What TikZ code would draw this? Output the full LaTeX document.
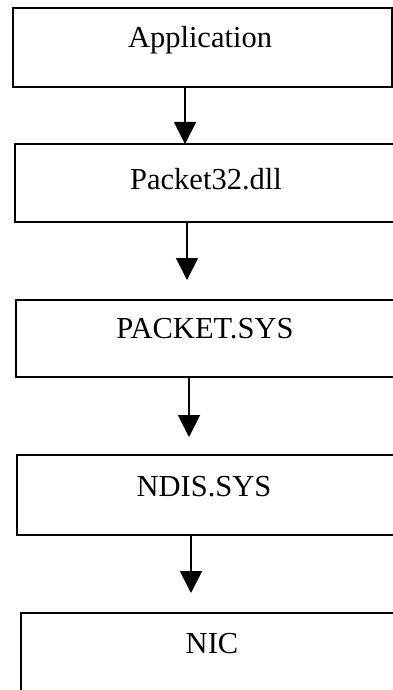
\documentclass[tikz,border=0pt]{standalone}
\usepackage{fontspec}
\setmainfont{Liberation Serif}
\usetikzlibrary{arrows.meta}
\begin{document}
\begin{tikzpicture}[x=1pt,y=-1pt,
  layer/.style={draw, line width=1.8pt, rectangle, anchor=north west,
                inner sep=0pt, outer sep=0pt},
  lbl/.style={anchor=base, inner sep=0pt,
              font=\fontsize{30.5}{36}\selectfont},
  arr/.style={-{Triangle[width=22pt,length=22pt]}, line width=1.8pt}]
\useasboundingbox (0,0) rectangle (393,690);
\fill[white] (0,0) rectangle (393,690);
\clip (0,0) rectangle (393,690);

% layer boxes (all but the top one run off the right edge)
\node[layer, minimum width=379pt, minimum height=79pt] (app)  at (13,8)   {};
\node[layer, minimum width=420pt, minimum height=78pt] (pkt)  at (15,144) {};
\node[layer, minimum width=420pt, minimum height=77pt] (psys) at (16,300) {};
\node[layer, minimum width=420pt, minimum height=80pt] (ndis) at (17,455) {};
\node[layer, minimum width=420pt, minimum height=120pt] (nic) at (21,613) {};

% labels
\node[lbl] (appt)  at (200,48)  {Application};
\node[lbl] (pktt)  at (206,189) {Packet32.dll};
\node[lbl] (psyst) at (205,338) {PACKET.SYS};
\node[lbl] (ndist) at (204,496) {NDIS.SYS};
\node[lbl] (nict)  at (212,653) {NIC};

% arrow columns
\coordinate (c1) at (185,0);
\coordinate (c2) at (187,0);
\coordinate (c3) at (189,0);
\coordinate (c4) at (191,0);

\draw[arr] (app.south -| c1) -- (pkt.north -| c1);
\draw[arr, shorten >=20pt] (pkt.south -| c2) -- (psys.north -| c2);
\draw[arr, shorten >=18pt] (psys.south -| c3) -- (ndis.north -| c3);
\draw[arr, shorten >=20pt] (ndis.south -| c4) -- (nic.north -| c4);
\end{tikzpicture}
\end{document}
